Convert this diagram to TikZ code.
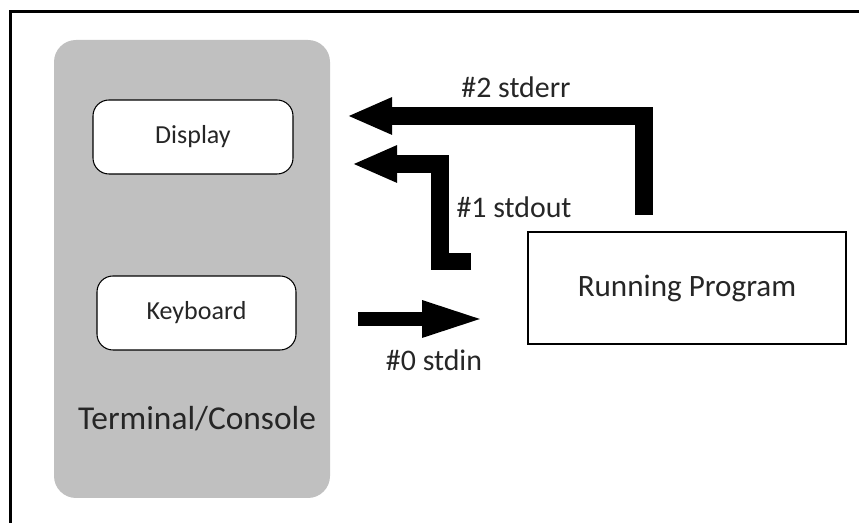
\documentclass[tikz,border=0pt]{standalone}
\usepackage{fontspec}
\setmainfont{Carlito}
\usetikzlibrary{arrows.meta}
\definecolor{termgray}{HTML}{C0C0C0}

\begin{document}
\begin{tikzpicture}[line join=miter,
    devbox/.style={draw=black,line width=0.6pt,fill=white,rounded corners=0.32cm,
      minimum width=4.0cm,minimum height=1.48cm,font=\fontsize{14.8}{17}\selectfont,text=black!85},
    lbl/.style={font=\fontsize{17}{20}\selectfont,text=black!85},
    bigarrow/.style={line width=0.35cm,-{Triangle[length=0.9cm,width=0.68cm]}}]
  \useasboundingbox (0,0) rectangle (17.18,10.46);
  % frame
  \draw[line width=1.2pt] (0.21,0) -- (0.21,10.23) -- (17.18,10.23);
  % terminal
  \node[fill=termgray,rounded corners=0.44cm,minimum width=5.52cm,minimum height=9.16cm] (term) at (3.84,5.08) {};
  \node[devbox] (disp) at (3.86,7.72) {Display};
  \node[devbox,minimum width=3.98cm] (keyb) at (3.93,4.20) {Keyboard};
  \node[font=\fontsize{19}{22}\selectfont,text=black!85] (termlbl) at (3.94,2.08) {Terminal/Console};
  % program
  \node[draw=black,line width=0.9pt,minimum width=6.36cm,minimum height=2.24cm,
    font=\fontsize{17.7}{21}\selectfont,text=black!85] (prog) at (13.74,4.70) {Running Program};
  % streams
  \coordinate (errfrom) at (12.88,6.16);
  \coordinate (errto) at (6.94,8.14);
  \coordinate (outfrom) at (9.42,5.23);
  \coordinate (outto) at (7.04,7.18);
  \coordinate (infrom) at (7.16,4.08);
  \coordinate (into) at (9.70,4.08);
  \draw[bigarrow] (errfrom) |- (errto);
  \draw[bigarrow] (outfrom) -- (8.80,5.23) |- (outto);
  \draw[line width=0.28cm,-{Triangle[length=1.26cm,width=0.66cm]}] (infrom) -- (into);
  \node[lbl] (errlbl) at (10.32,8.72) {\#2 stderr};
  \node[lbl] (outlbl) at (10.28,6.32) {\#1 stdout};
  \node[lbl] (inlbl) at (8.68,3.26) {\#0 stdin};
\end{tikzpicture}
\end{document}
